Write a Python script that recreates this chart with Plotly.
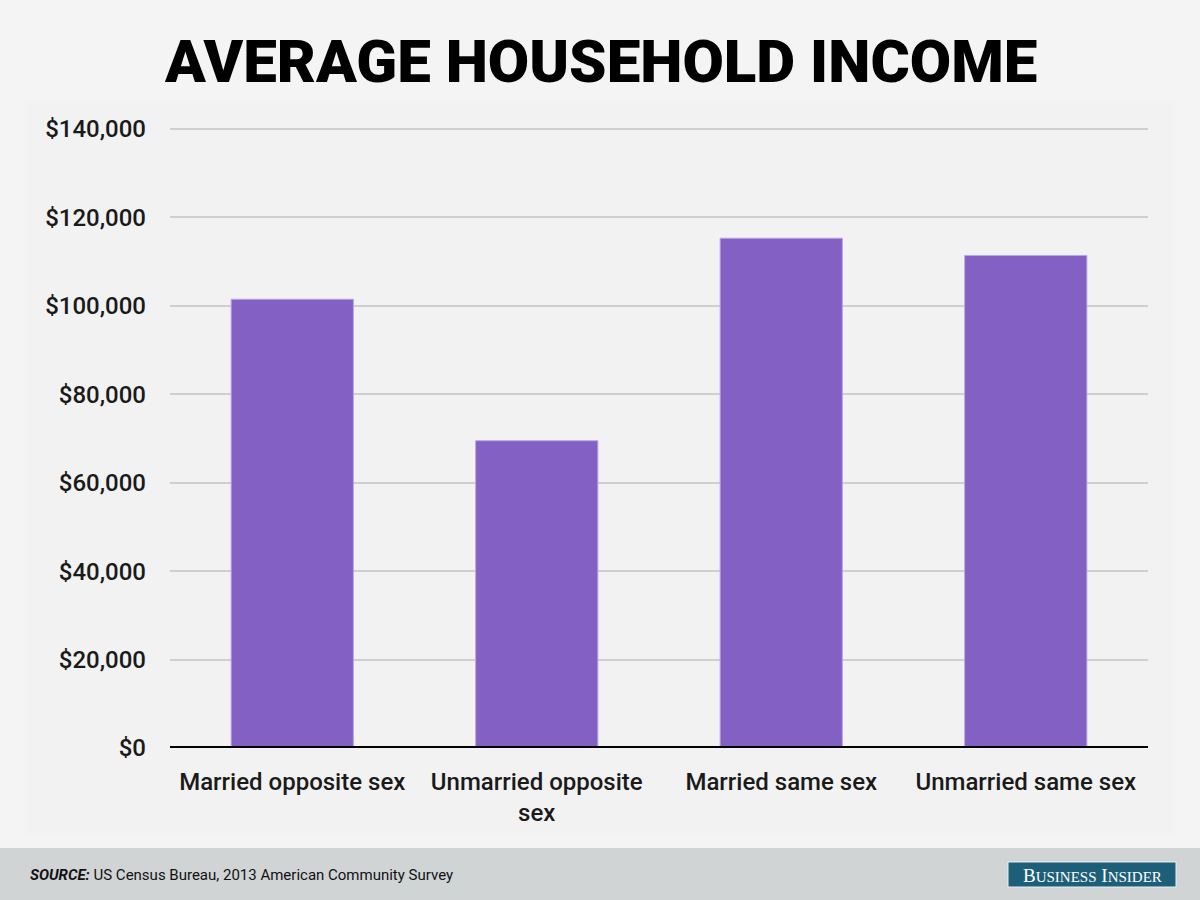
import plotly.graph_objects as go

categories = ["Married opposite sex", "Unmarried opposite<br>sex", "Married same sex", "Unmarried same sex"]
income = [101500, 69500, 115300, 111400]
tick_vals = [0, 20000, 40000, 60000, 80000, 100000, 120000, 140000]
tick_text = ["$0", "$20,000", "$40,000", "$60,000", "$80,000", "$100,000", "$120,000", "$140,000"]

W, H = 1200, 900
Y0_PX, Y140_PX = 748, 129
px_per_unit = (Y0_PX - Y140_PX) / 140000
TOP_EXTRA = 5
ymax = 140000 + TOP_EXTRA / px_per_unit
L, R, T, B = 170, 52, Y140_PX - TOP_EXTRA, H - Y0_PX
pw, ph = W - L - R, H - T - B

def px_x(x):
    return (x - L) / pw

def px_y(y):
    return (H - B - y) / ph

fig = go.Figure(go.Bar(
    x=categories, y=income,
    marker=dict(color="#8260c4", line=dict(color="#b9a6e3", width=1)),
    width=0.5,
    hoverinfo="skip",
))

shapes = [
    dict(type="rect", xref="paper", yref="paper", layer="below",
         x0=px_x(25), x1=px_x(1175), y0=px_y(835), y1=px_y(101),
         fillcolor="#f2f2f2", line=dict(width=0)),
    dict(type="rect", xref="paper", yref="paper", layer="below",
         x0=px_x(0), x1=px_x(1200), y0=px_y(900), y1=px_y(848),
         fillcolor="#d0d4d5", line=dict(width=0)),
    dict(type="rect", xref="paper", yref="paper", layer="above",
         x0=px_x(1008), x1=px_x(1176), y0=px_y(887), y1=px_y(862),
         fillcolor="#1d5f78", line=dict(color="#e8eef0", width=1)),
    dict(type="line", xref="paper", yref="y", layer="above",
         x0=0, x1=1, y0=0, y1=0, line=dict(color="#000000", width=4)),
]

annotations = [
    dict(text="AVERAGE HOUSEHOLD INCOME", xref="paper", yref="paper",
         x=px_x(600), y=px_y(62), xanchor="center", yanchor="middle", showarrow=False,
         font=dict(family="Roboto", size=60, color="#000000", weight=900)),
    dict(text="<b><i>SOURCE:</i></b> US Census Bureau, 2013 American Community Survey",
         xref="paper", yref="paper", x=px_x(28), y=px_y(875), xanchor="left", yanchor="middle",
         showarrow=False, font=dict(family="Roboto", size=15, color="#111111")),
    dict(text="B<span style='font-size:15px'>USINESS</span> I<span style='font-size:15px'>NSIDER</span>",
         xref="paper", yref="paper", x=px_x(1092), y=px_y(875), xanchor="center", yanchor="middle",
         showarrow=False, font=dict(family="Liberation Serif", size=19, color="#ffffff")),
]

fig.update_layout(
    width=W, height=H,
    margin=dict(l=L, r=R, t=T, b=B, autoexpand=False),
    paper_bgcolor="#f4f4f4", plot_bgcolor="rgba(0,0,0,0)",
    showlegend=False,
    bargap=0.5,
    shapes=shapes,
    annotations=annotations,
    xaxis=dict(showgrid=False, showline=False, zeroline=False, ticks="",
               tickfont=dict(family="Roboto", size=24, color="#1a1a1a", weight=500),
               ticklabelstandoff=17, automargin=False),
    yaxis=dict(range=[0, ymax], tickvals=tick_vals, ticktext=tick_text,
               showgrid=True, gridcolor="#cfcfcf", gridwidth=1.5, zeroline=False,
               showline=False, ticks="",
               tickfont=dict(family="Roboto", size=24, color="#1a1a1a", weight=500),
               ticklabelstandoff=23, automargin=False),
)

fig.write_html("out.html", config={"displayModeBar": False},
               post_script="document.body.style.margin='0';document.body.style.padding='0';")
